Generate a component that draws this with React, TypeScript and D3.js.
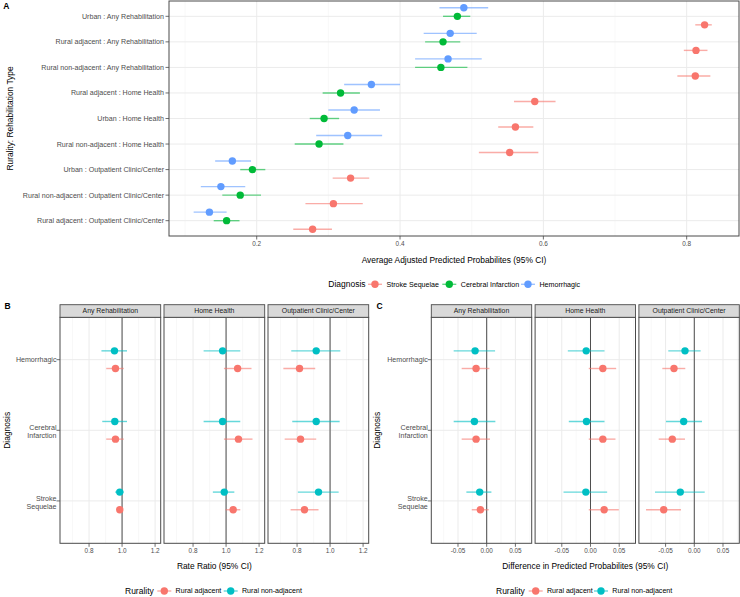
import React from 'react';
import * as d3 from 'd3';

const FONT = '"Liberation Sans", Arial, Helvetica, sans-serif';

// ---------- Panel A data ----------
const catA = [
  'Urban : Any Rehabilitation',
  'Rural adjacent : Any Rehabilitation',
  'Rural non-adjacent : Any Rehabilitation',
  'Rural adjacent : Home Health',
  'Urban : Home Health',
  'Rural non-adjacent : Home Health',
  'Urban : Outpatient Clinic/Center',
  'Rural non-adjacent : Outpatient Clinic/Center',
  'Rural adjacent : Outpatient Clinic/Center',
];
const diagA = ['Stroke Sequelae', 'Cerebral Infarction', 'Hemorrhagic'];
const colorsA = ['#F8766D', '#00BA38', '#619CFF'];
const dodgeA = [1 / 3, 0, -1 / 3];

const strokeEst = [0.825, 0.813, 0.812, 0.588, 0.561, 0.553, 0.331, 0.307, 0.278];
const strokeLo = [0.812, 0.796, 0.787, 0.559, 0.537, 0.510, 0.306, 0.268, 0.251];
const strokeHi = [0.835, 0.829, 0.833, 0.617, 0.586, 0.593, 0.357, 0.348, 0.305];
const cerebralEst = [0.480, 0.460, 0.457, 0.317, 0.294, 0.287, 0.194, 0.177, 0.158];
const cerebralLo = [0.460, 0.435, 0.421, 0.292, 0.274, 0.253, 0.177, 0.152, 0.140];
const cerebralHi = [0.498, 0.484, 0.494, 0.344, 0.315, 0.321, 0.212, 0.206, 0.176];
const hemEst = [0.489, 0.470, 0.467, 0.360, 0.336, 0.327, 0.166, 0.150, 0.134];
const hemLo = [0.455, 0.433, 0.421, 0.322, 0.300, 0.283, 0.142, 0.122, 0.112];
const hemHi = [0.523, 0.507, 0.514, 0.400, 0.372, 0.375, 0.192, 0.184, 0.158];

const seriesA = [
  { est: strokeEst, lo: strokeLo, hi: strokeHi },
  { est: cerebralEst, lo: cerebralLo, hi: cerebralHi },
  { est: hemEst, lo: hemLo, hi: hemHi },
];
const ticksA = [0.2, 0.4, 0.6, 0.8];
const minorA = [0.1, 0.3, 0.5, 0.7];

// ---------- Panels B & C data ----------
const facets = ['Any Rehabilitation', 'Home Health', 'Outpatient Clinic/Center'];
const diagBC = [['Hemorrhagic'], ['Cerebral', 'Infarction'], ['Stroke', 'Sequelae']];
const rurality = ['Rural adjacent', 'Rural non-adjacent'];
const colorsBC = ['#F8766D', '#00BFC4'];
const dodgeBC = [0.125, -0.125];

// values ordered facet-major: [Any: Hem, Cer, Str], [Home: ...], [Outp: ...]
const rrAdjEst = [0.960, 0.960, 0.986, 1.070, 1.075, 1.043, 0.815, 0.821, 0.845];
const rrAdjLo = [0.904, 0.904, 0.970, 0.987, 0.987, 0.997, 0.717, 0.725, 0.761];
const rrAdjHi = [1.010, 1.010, 1.002, 1.154, 1.160, 1.086, 0.910, 0.916, 0.930];
const rrNonEst = [0.954, 0.956, 0.986, 0.979, 0.979, 0.989, 0.916, 0.916, 0.930];
const rrNonLo = [0.875, 0.880, 0.958, 0.864, 0.864, 0.920, 0.765, 0.771, 0.805];
const rrNonHi = [1.030, 1.030, 1.010, 1.086, 1.086, 1.050, 1.062, 1.058, 1.052];

const dfAdjEst = [-0.0185, -0.0185, -0.011, 0.0215, 0.0215, 0.0238, -0.0354, -0.0383, -0.0533];
const dfAdjLo = [-0.0436, -0.0436, -0.026, -0.003, -0.003, -0.003, -0.0557, -0.062, -0.0841];
const dfAdjHi = [0.0047, 0.0058, 0.0035, 0.0447, 0.0435, 0.0493, -0.0157, -0.0162, -0.0232];
const dfNonEst = [-0.0202, -0.0214, -0.0122, -0.0075, -0.007, -0.0081, -0.0162, -0.0185, -0.0244];
const dfNonLo = [-0.0575, -0.0575, -0.0354, -0.0395, -0.0378, -0.047, -0.0453, -0.0493, -0.0685];
const dfNonHi = [0.0146, 0.0151, 0.0082, 0.0244, 0.0244, 0.029, 0.011, 0.0134, 0.0181];

const ticksB = [0.8, 1.0, 1.2];
const minorB = [0.7, 0.9, 1.1];
const ticksC = [-0.05, 0, 0.05];
const minorC = [-0.075, -0.025, 0.025, 0.075];

const GRID = '#ebebeb';
const GRID_MINOR = '#f4f4f4';
const BORDER = '#4a4a4a';
const TICKTXT = '#4d4d4d';
const ALPHA = 0.6;
const R = 3.7;

function Key({ x, y, color }: { x: number; y: number; color: string }) {
  return (
    <g>
      <line x1={x - 7} x2={x + 7} y1={y} y2={y} stroke={color} strokeWidth={1.4} opacity={ALPHA} />
      <circle cx={x} cy={y} r={R} fill={color} />
    </g>
  );
}

function PanelA() {
  const left = 169, right = 739, top = 1, bottom = 236;
  const x = d3.scaleLinear().domain([0.0776, 0.873]).range([left, right]);
  const y = d3.scaleLinear().domain([-0.6, catA.length - 1 + 0.6]).range([top, bottom]);
  return (
    <g>
      <rect x={left} y={top} width={right - left} height={bottom - top} fill="#fff" />
      {minorA.map((v) => (
        <line key={'m' + v} x1={x(v)} x2={x(v)} y1={top} y2={bottom} stroke={GRID_MINOR} strokeWidth={0.6} />
      ))}
      {ticksA.map((v) => (
        <line key={'M' + v} x1={x(v)} x2={x(v)} y1={top} y2={bottom} stroke={GRID} strokeWidth={1} />
      ))}
      {catA.map((c, i) => (
        <line key={'h' + i} x1={left} x2={right} y1={y(i)} y2={y(i)} stroke={GRID} strokeWidth={1} />
      ))}
      {seriesA.map((s, si) => (
        <g key={'s' + si}>
          {s.est.map((v, i) => (
            <g key={i}>
              <line
                x1={x(s.lo[i])}
                x2={x(s.hi[i])}
                y1={y(i + dodgeA[si])}
                y2={y(i + dodgeA[si])}
                stroke={colorsA[si]}
                strokeWidth={1.4}
                opacity={ALPHA}
              />
              <circle cx={x(v)} cy={y(i + dodgeA[si])} r={R} fill={colorsA[si]} />
            </g>
          ))}
        </g>
      ))}
      <rect x={left} y={top} width={right - left} height={bottom - top} fill="none" stroke={BORDER} strokeWidth={1} />
      {catA.map((c, i) => (
        <g key={'yl' + i}>
          <line x1={left - 3.5} x2={left} y1={y(i)} y2={y(i)} stroke={BORDER} strokeWidth={0.8} />
          <text x={left - 5} y={y(i)} dy="0.35em" textAnchor="end" fontSize={7.1} fill={TICKTXT}>
            {c}
          </text>
        </g>
      ))}
      {ticksA.map((v) => (
        <g key={'xt' + v}>
          <line x1={x(v)} x2={x(v)} y1={bottom} y2={bottom + 3.5} stroke={BORDER} strokeWidth={0.8} />
          <text x={x(v)} y={bottom + 10} textAnchor="middle" fontSize={6.4} fill={TICKTXT}>
            {d3.format('.1f')(v)}
          </text>
        </g>
      ))}
      <text x={(left + right) / 2} y={263} textAnchor="middle" fontSize={8.4} fill="#000">
        Average Adjusted Predicted Probabilites (95% CI)
      </text>
      <text
        transform={`translate(13.3, ${(top + bottom) / 2}) rotate(-90)`}
        textAnchor="middle"
        fontSize={8.4}
        fill="#000"
      >
        Rurality: Rehabilitation Type
      </text>
      {/* legend */}
      <text x={328.3} y={287.2} fontSize={8.5} fill="#000">
        Diagnosis
      </text>
      {diagA.map((d, i) => {
        const kx = [375, 449.3, 528][i];
        return (
          <g key={'lg' + i}>
            <Key x={kx} y={284.3} color={colorsA[i]} />
            <text x={kx + 11.5} y={284.3} dy="0.35em" fontSize={7.1} fill="#000">
              {d}
            </text>
          </g>
        );
      })}
    </g>
  );
}

type FacetProps = {
  lefts: number[];
  width: number;
  top: number;
  stripTop: number;
  bottom: number;
  domain: [number, number];
  ticks: number[];
  minor: number[];
  fmt: (v: number) => string;
  refVal: number;
  series: { est: number[]; lo: number[]; hi: number[] }[];
  xTitle: string;
  yTitleX: number;
  labelRight: number;
  legendTitleX: number;
  legendKeys: number[];
};

function FacetPanel(p: FacetProps) {
  const y = d3.scaleLinear().domain([-0.6, diagBC.length - 1 + 0.6]).range([p.top, p.bottom]);
  const cx = (p.lefts[0] + p.lefts[p.lefts.length - 1] + p.width) / 2;
  return (
    <g>
      {facets.map((f, fi) => {
        const l = p.lefts[fi];
        const x = d3.scaleLinear().domain(p.domain).range([l, l + p.width]);
        return (
          <g key={f}>
            <rect x={l} y={p.top} width={p.width} height={p.bottom - p.top} fill="#fff" />
            {p.minor.map((v) => (
              <line key={'m' + v} x1={x(v)} x2={x(v)} y1={p.top} y2={p.bottom} stroke={GRID_MINOR} strokeWidth={0.6} />
            ))}
            {p.ticks.map((v) => (
              <line key={'M' + v} x1={x(v)} x2={x(v)} y1={p.top} y2={p.bottom} stroke={GRID} strokeWidth={1} />
            ))}
            {diagBC.map((d, i) => (
              <line key={'h' + i} x1={l} x2={l + p.width} y1={y(i)} y2={y(i)} stroke={GRID} strokeWidth={1} />
            ))}
            <line x1={x(p.refVal)} x2={x(p.refVal)} y1={p.top} y2={p.bottom} stroke="#4d4d4d" strokeWidth={1} />
            {p.series.map((s, si) => (
              <g key={'s' + si}>
                {diagBC.map((d, di) => {
                  const k = fi * 3 + di;
                  const yy = y(di + dodgeBC[si]);
                  return (
                    <g key={di}>
                      <line
                        x1={x(s.lo[k])}
                        x2={x(s.hi[k])}
                        y1={yy}
                        y2={yy}
                        stroke={colorsBC[si]}
                        strokeWidth={1.4}
                        opacity={ALPHA}
                      />
                      <circle cx={x(s.est[k])} cy={yy} r={R} fill={colorsBC[si]} />
                    </g>
                  );
                })}
              </g>
            ))}
            <rect x={l} y={p.top} width={p.width} height={p.bottom - p.top} fill="none" stroke={BORDER} strokeWidth={1} />
            {/* strip */}
            <rect x={l} y={p.stripTop} width={p.width} height={p.top - p.stripTop} fill="#d9d9d9" stroke={BORDER} strokeWidth={0.9} />
            <text x={l + p.width / 2} y={(p.stripTop + p.top) / 2} dy="0.35em" textAnchor="middle" fontSize={6.9} fill="#1a1a1a">
              {f}
            </text>
            {p.ticks.map((v) => (
              <g key={'xt' + v}>
                <line x1={x(v)} x2={x(v)} y1={p.bottom} y2={p.bottom + 3.5} stroke={BORDER} strokeWidth={0.8} />
                <text x={x(v)} y={p.bottom + 10} textAnchor="middle" fontSize={6.4} fill={TICKTXT}>
                  {p.fmt(v)}
                </text>
              </g>
            ))}
          </g>
        );
      })}
      {diagBC.map((lines, i) => (
        <g key={'yl' + i}>
          <line x1={p.lefts[0] - 3.5} x2={p.lefts[0]} y1={y(i)} y2={y(i)} stroke={BORDER} strokeWidth={0.8} />
          {lines.map((t, li) => (
            <text
              key={li}
              x={p.labelRight}
              y={y(i) + (lines.length === 1 ? 0 : li === 0 ? -2.8 : 5.2)}
              dy="0.35em"
              textAnchor="end"
              fontSize={7.1}
              fill={TICKTXT}
            >
              {t}
            </text>
          ))}
        </g>
      ))}
      <text x={cx} y={569} textAnchor="middle" fontSize={8.4} fill="#000">
        {p.xTitle}
      </text>
      <text
        transform={`translate(${p.yTitleX}, ${(p.top + p.bottom) / 2}) rotate(-90)`}
        textAnchor="middle"
        fontSize={8.4}
        fill="#000"
      >
        Diagnosis
      </text>
      <text x={p.legendTitleX} y={593.8} fontSize={8.5} fill="#000">
        Rurality
      </text>
      {rurality.map((r, i) => (
        <g key={'lg' + i}>
          <Key x={p.legendKeys[i]} y={591} color={colorsBC[i]} />
          <text x={p.legendKeys[i] + 11.3} y={591} dy="0.35em" fontSize={7.1} fill="#000">
            {r}
          </text>
        </g>
      ))}
    </g>
  );
}

export default function App() {
  const fmtB = (v: number) => d3.format('.1f')(v);
  const fmtC = (v: number) => d3.format('.2f')(v).replace('−', '-');
  return (
    <svg
      width={740}
      height={597}
      style={{ position: 'absolute', left: 0, top: 0, background: '#fff' }}
      fontFamily={FONT}
    >
      <rect x={0} y={0} width={740} height={597} fill="#fff" />
      <text x={3.3} y={9.3} fontSize={8.5} fontWeight="bold" fill="#000">A</text>
      <PanelA />
      <text x={4.5} y={308.7} fontSize={8.5} fontWeight="bold" fill="#000">B</text>
      <FacetPanel
        lefts={[60, 164, 268]}
        width={100.7}
        top={317.3}
        stripTop={304.7}
        bottom={543.3}
        domain={[0.624, 1.234]}
        ticks={ticksB}
        minor={minorB}
        fmt={fmtB}
        refVal={1}
        series={[
          { est: rrAdjEst, lo: rrAdjLo, hi: rrAdjHi },
          { est: rrNonEst, lo: rrNonLo, hi: rrNonHi },
        ]}
        xTitle="Rate Ratio (95% CI)"
        yTitleX={9.5}
        labelRight={56.5}
        legendTitleX={125}
        legendKeys={[164.3, 230.7]}
      />
      <text x={376.5} y={308.7} fontSize={8.5} fontWeight="bold" fill="#000">C</text>
      <FacetPanel
        lefts={[431.3, 535.1, 638.9]}
        width={100.4}
        top={317.3}
        stripTop={304.7}
        bottom={543.3}
        domain={[-0.0965, 0.0784]}
        ticks={ticksC}
        minor={minorC}
        fmt={fmtC}
        refVal={0}
        series={[
          { est: dfAdjEst, lo: dfAdjLo, hi: dfAdjHi },
          { est: dfNonEst, lo: dfNonLo, hi: dfNonHi },
        ]}
        xTitle="Difference in Predicted Probabilites (95% CI)"
        yTitleX={379.5}
        labelRight={427.8}
        legendTitleX={496}
        legendKeys={[535.7, 601]}
      />
    </svg>
  );
}
